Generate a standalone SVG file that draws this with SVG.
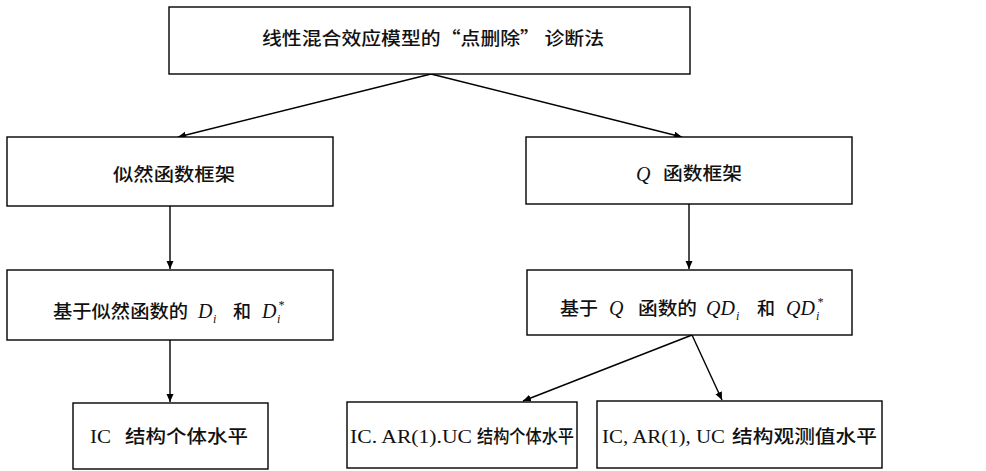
<svg xmlns="http://www.w3.org/2000/svg" width="986" height="471" viewBox="0 0 986 471">
<defs>
<marker id="ah" markerUnits="userSpaceOnUse" markerWidth="9" markerHeight="8" refX="8" refY="3.5" orient="auto">
<path d="M0,0 L8,3.5 L0,7 z" fill="#000"/>
</marker>
<style>
rect.box{fill:#fff;stroke:#000;stroke-width:1.4}
.cjk{font-family:"Noto Sans CJK SC","Noto Sans CJK TC",sans-serif;font-size:18px;font-weight:500;fill:#111}
.lat{font-family:"Liberation Serif",serif;font-size:19px;fill:#111}
.mi{font-family:"Liberation Serif",serif;font-style:italic;font-size:20px;fill:#111}
.sub{font-family:"Liberation Serif",serif;font-style:italic;font-size:12px;fill:#111}
.conn line{stroke:#000;stroke-width:1.4;marker-end:url(#ah)}
</style>
</defs>
<rect width="986" height="471" fill="#fff"/>
<g class="conn" id="connectors">
<line x1="431" y1="74" x2="178" y2="137"/>
<line x1="431" y1="74" x2="682" y2="137"/>
<line x1="170" y1="206" x2="170" y2="269"/>
<line x1="689" y1="204" x2="689" y2="269"/>
<line x1="170" y1="340" x2="170" y2="402"/>
<line x1="692" y1="335" x2="523" y2="401"/>
<line x1="692" y1="335" x2="722" y2="400"/>
</g>
<g id="n1">
<rect class="box" x="169" y="7" width="521" height="67"/>
<text class="cjk" x="262" y="45" textLength="342" lengthAdjust="spacingAndGlyphs">线性混合效应模型的“点删除” 诊断法</text>
</g>
<g id="n2">
<rect class="box" x="7" y="137" width="326" height="69"/>
<text class="cjk" x="113" y="181" textLength="122" lengthAdjust="spacingAndGlyphs">似然函数框架</text>
</g>
<g id="n3">
<rect class="box" x="526" y="137" width="326" height="67"/>
<text class="mi" x="636" y="181">Q</text>
<text class="cjk" x="663" y="180" textLength="79" lengthAdjust="spacingAndGlyphs">函数框架</text>
</g>
<g id="n4">
<rect class="box" x="7" y="270" width="326" height="70"/>
<text class="cjk" x="53" y="318" textLength="135" lengthAdjust="spacingAndGlyphs">基于似然函数的</text>
<text class="mi" x="198" y="318">D</text>
<text class="sub" x="213" y="323">i</text>
<text class="cjk" x="233" y="318">和</text>
<text class="mi" x="262" y="318">D</text>
<text class="sub" x="277" y="323">i</text>
<text class="sub" x="278" y="309">*</text>
</g>
<g id="n5">
<rect class="box" x="527" y="270" width="325" height="65"/>
<text class="cjk" x="560" y="315" textLength="38" lengthAdjust="spacingAndGlyphs">基于</text>
<text class="mi" x="609" y="315">Q</text>
<text class="cjk" x="638" y="315" textLength="59" lengthAdjust="spacingAndGlyphs">函数的</text>
<text class="mi" x="706" y="315">QD</text>
<text class="sub" x="736" y="320">i</text>
<text class="cjk" x="757" y="315">和</text>
<text class="mi" x="786" y="315">QD</text>
<text class="sub" x="816" y="320">i</text>
<text class="sub" x="817" y="306">*</text>
</g>
<g id="n6">
<rect class="box" x="73" y="403" width="195" height="66"/>
<text class="lat" x="90" y="443" textLength="21" lengthAdjust="spacingAndGlyphs">IC</text>
<text class="cjk" x="125" y="443" textLength="123" lengthAdjust="spacingAndGlyphs">结构个体水平</text>
</g>
<g id="n7">
<rect class="box" x="347" y="402" width="230" height="66"/>
<text class="lat" x="350" y="443" textLength="122" lengthAdjust="spacingAndGlyphs">IC. AR(1).UC</text>
<text class="cjk" x="477" y="443" textLength="97" lengthAdjust="spacingAndGlyphs">结构个体水平</text>
</g>
<g id="n8">
<rect class="box" x="597" y="401" width="285" height="67"/>
<text class="lat" x="602" y="443" textLength="123" lengthAdjust="spacingAndGlyphs">IC, AR(1), UC</text>
<text class="cjk" x="732" y="443" textLength="145" lengthAdjust="spacingAndGlyphs">结构观测值水平</text>
</g>
</svg>
